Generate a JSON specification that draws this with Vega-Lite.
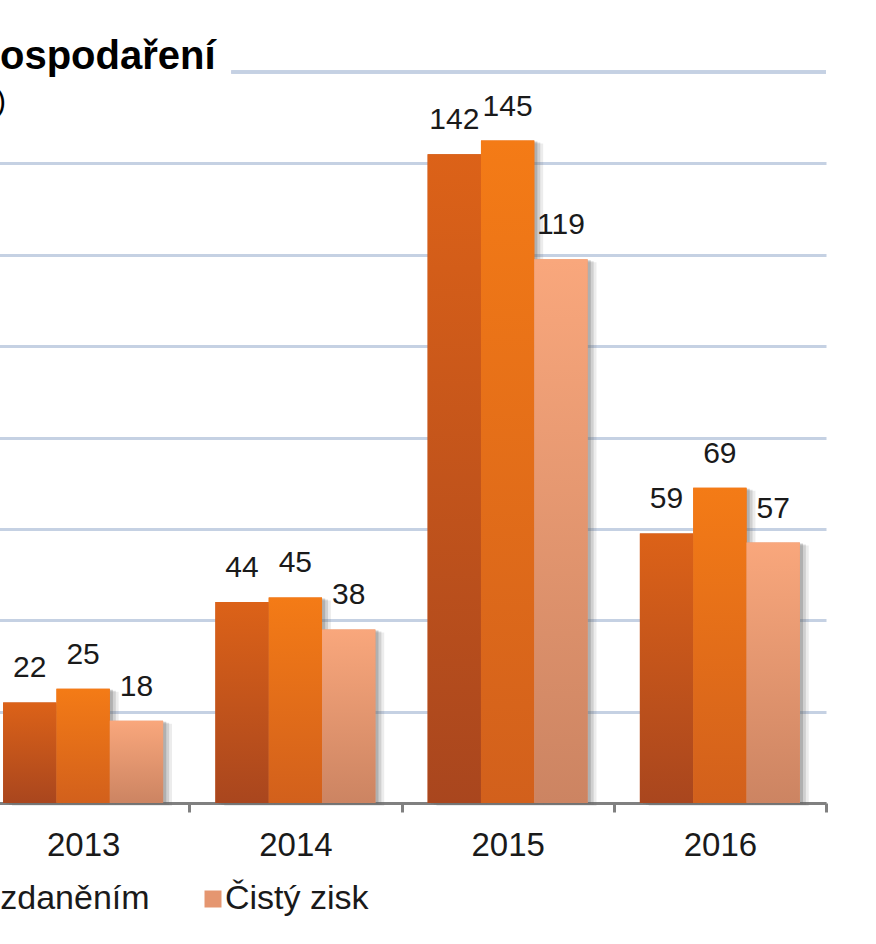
{
  "$schema": "https://vega.github.io/schema/vega-lite/v6.json",
  "width": 849,
  "height": 731,
  "autosize": {"type": "none"},
  "padding": {"left": -23, "top": 72, "right": 50, "bottom": 141},
  "background": "white",
  "title": {
    "text": "Výsledek hospodaření",
    "subtitle": "(údaje v mil. Kč)",
    "anchor": "start",
    "frame": "group",
    "dx": -186,
    "offset": -46,
    "font": "Liberation Sans",
    "fontSize": 40,
    "fontWeight": "bold",
    "color": "#000000",
    "subtitleFont": "Liberation Sans",
    "subtitleFontSize": 30,
    "subtitleColor": "#000000",
    "subtitlePadding": 10
  },
  "data": {
    "values": [
      {"year": "2013", "series": "Provozní zisk", "value": 22},
      {"year": "2013", "series": "Zisk před zdaněním", "value": 25},
      {"year": "2013", "series": "Čistý zisk", "value": 18},
      {"year": "2014", "series": "Provozní zisk", "value": 44},
      {"year": "2014", "series": "Zisk před zdaněním", "value": 45},
      {"year": "2014", "series": "Čistý zisk", "value": 38},
      {"year": "2015", "series": "Provozní zisk", "value": 142},
      {"year": "2015", "series": "Zisk před zdaněním", "value": 145},
      {"year": "2015", "series": "Čistý zisk", "value": 119},
      {"year": "2016", "series": "Provozní zisk", "value": 59},
      {"year": "2016", "series": "Zisk před zdaněním", "value": 69},
      {"year": "2016", "series": "Čistý zisk", "value": 57}
    ]
  },
  "resolve": {"scale": {"xOffset": "independent"}},
  "encoding": {
    "x": {
      "field": "year",
      "type": "nominal",
      "scale": {"paddingInner": 0, "paddingOuter": 0},
      "axis": {
        "title": null,
        "labelAngle": 0,
        "tickBand": "extent",
        "domainColor": "#808080",
        "domainWidth": 3,
        "tickColor": "#808080",
        "tickWidth": 3,
        "tickSize": 9,
        "labelPadding": 17,
        "labelBaseline": "top",
        "labelFont": "Liberation Sans",
        "labelFontSize": 33,
        "labelColor": "#1a1a1a"
      }
    },
    "xOffset": {"field": "series", "type": "nominal", "scale": {"type": "band", "domain": ["Provozní zisk", "Zisk před zdaněním", "Čistý zisk"], "paddingInner": 0, "paddingOuter": 0.49}},
    "y": {
      "field": "value",
      "type": "quantitative",
      "scale": {"domain": [0, 160]},
      "axis": {
        "title": null,
        "values": [0, 20, 40, 60, 80, 100, 120, 140],
        "labels": false,
        "ticks": false,
        "domain": false,
        "gridColor": "#c5d1e3",
        "gridWidth": 3
      }
    }
  },
  "layer": [
    {
      "mark": {"type": "rule", "color": "#c5d1e3", "strokeWidth": 3},
      "encoding": {
        "x": {"datum": "2014", "bandPosition": 0.2},
        "x2": {"datum": "2016", "bandPosition": 1},
        "xOffset": null,
        "y": {"datum": 160, "type": "quantitative"}
      }
    },
    {
      "mark": {"type": "bar", "color": "#666666", "opacity": 0.12, "yOffset": 3},
      "encoding": {
        "xOffset": {"field": "series", "type": "nominal", "scale": {"type": "band", "domain": ["Provozní zisk", "Zisk před zdaněním", "Čistý zisk"], "paddingInner": 0, "paddingOuter": 0.49, "align": 0.67}}
      }
    },
    {
      "mark": {"type": "bar", "color": "#666666", "opacity": 0.2, "yOffset": 2},
      "encoding": {
        "xOffset": {"field": "series", "type": "nominal", "scale": {"type": "band", "domain": ["Provozní zisk", "Zisk před zdaněním", "Čistý zisk"], "paddingInner": 0, "paddingOuter": 0.49, "align": 0.615}}
      }
    },
    {
      "mark": {"type": "bar", "color": "#666666", "opacity": 0.3, "yOffset": 1},
      "encoding": {
        "xOffset": {"field": "series", "type": "nominal", "scale": {"type": "band", "domain": ["Provozní zisk", "Zisk před zdaněním", "Čistý zisk"], "paddingInner": 0, "paddingOuter": 0.49, "align": 0.56}}
      }
    },
    {
      "mark": {"type": "bar"},
      "encoding": {
        "color": {
          "field": "series",
          "type": "nominal",
          "sort": ["Provozní zisk", "Zisk před zdaněním", "Čistý zisk"],
          "scale": {
            "domain": ["Provozní zisk", "Zisk před zdaněním", "Čistý zisk"],
            "range": ["#c4541b", "#e86e19", "#e59670"]
          },
          "legend": {
            "title": null,
            "orient": "none",
            "direction": "horizontal",
            "legendX": -433,
            "legendY": 810,
            "symbolType": "square",
            "symbolSize": 289,
            "symbolStrokeWidth": 0,
            "symbolOpacity": 1,
            "labelFont": "Liberation Sans",
            "labelFontSize": 34,
            "labelColor": "#1a1a1a",
            "labelLimit": 500,
            "labelOffset": -5,
            "columnPadding": 46
          }
        }
      }
    },
    {
      "transform": [{"filter": "datum.series === 'Provozní zisk'"}],
      "mark": {"type": "bar", "color": {"gradient": "linear", "x1": 0, "y1": 0, "x2": 0, "y2": 1, "stops": [{"offset": 0, "color": "#dc6218"}, {"offset": 1, "color": "#a9461e"}]}}
    },
    {
      "transform": [{"filter": "datum.series === 'Zisk před zdaněním'"}],
      "mark": {"type": "bar", "color": {"gradient": "linear", "x1": 0, "y1": 0, "x2": 0, "y2": 1, "stops": [{"offset": 0, "color": "#f47b16"}, {"offset": 1, "color": "#d2601c"}]}}
    },
    {
      "transform": [{"filter": "datum.series === 'Čistý zisk'"}],
      "mark": {"type": "bar", "color": {"gradient": "linear", "x1": 0, "y1": 0, "x2": 0, "y2": 1, "stops": [{"offset": 0, "color": "#f9a77c"}, {"offset": 1, "color": "#cc8462"}]}}
    },
    {
      "mark": {"type": "text", "baseline": "alphabetic", "dy": -25, "font": "Liberation Sans", "fontSize": 30, "color": "#1a1a1a"},
      "encoding": {
        "text": {"field": "value", "type": "quantitative"}
      }
    }
  ],
  "config": {
    "view": {"stroke": null}
  }
}
